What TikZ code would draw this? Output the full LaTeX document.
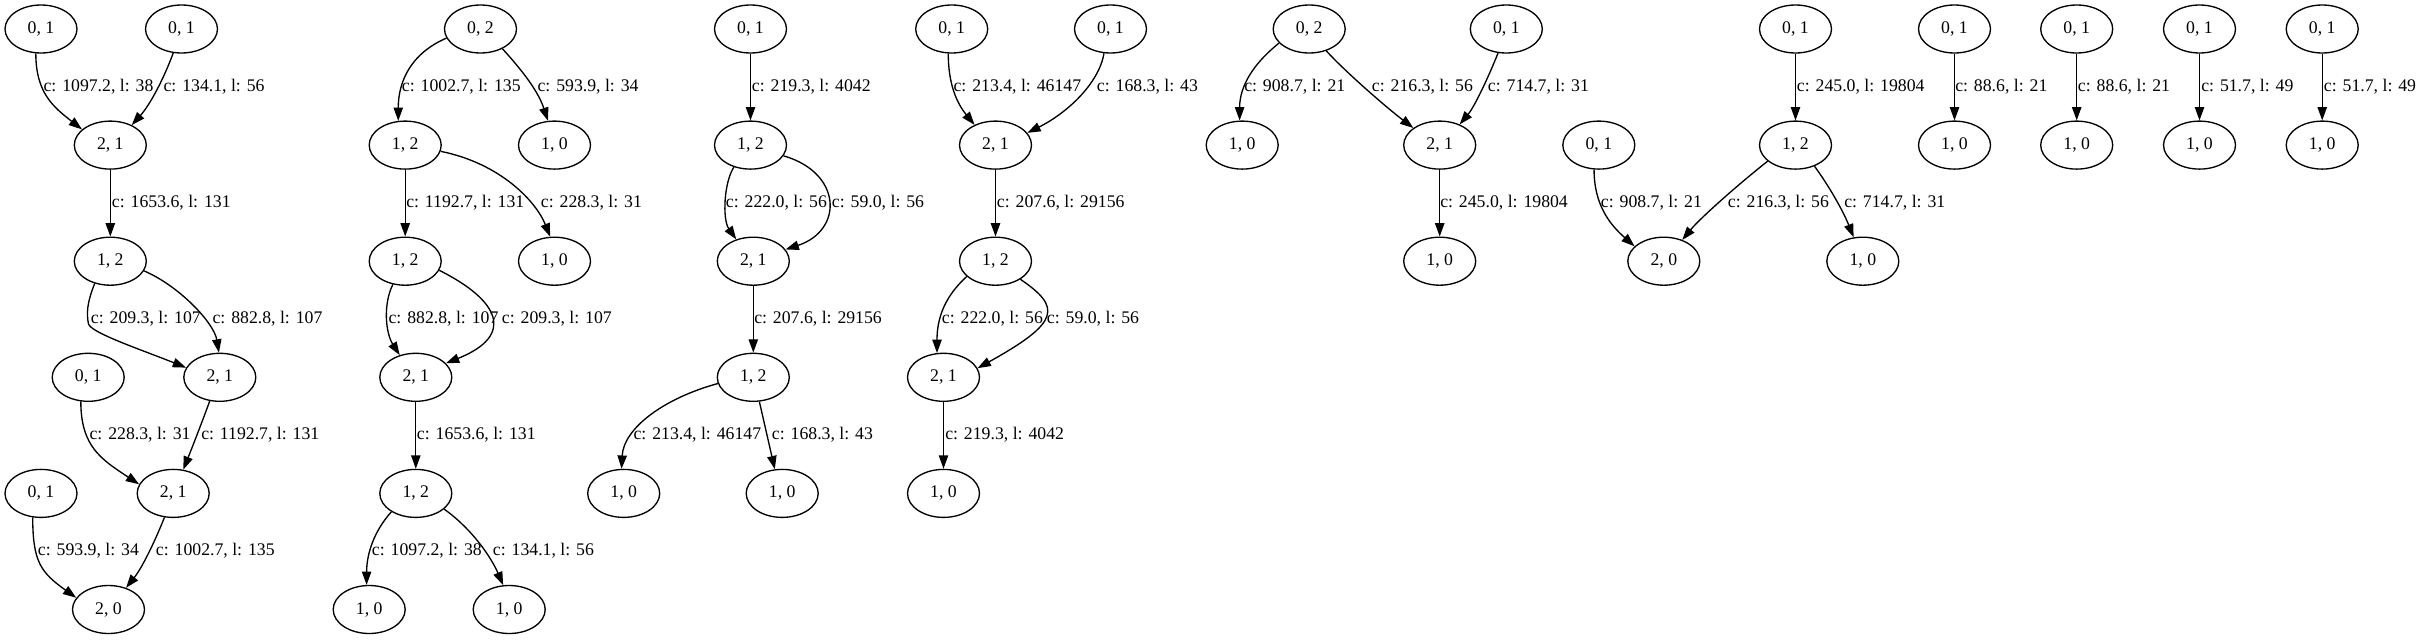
\documentclass[tikz,border=0pt]{standalone}
\usepackage{fontspec}
\setmainfont{Liberation Serif}
\usetikzlibrary{shapes.geometric,arrows.meta}
\begin{document}
\begin{tikzpicture}[x=0.75pt, y=-0.75pt,
  st/.style={draw, ellipse, minimum width=54pt, minimum height=36pt, inner sep=0pt, line width=1pt, font=\fontsize{13.3}{15}\selectfont},
  lab/.style={anchor=west, inner sep=0pt, font=\fontsize{13.3}{15}\selectfont},
  ed/.style={line width=1pt, -{Triangle[length=10pt,width=7pt]}}]
\path[use as bounding box] (0,0) rectangle (2420,639);
% ---------- graph 1
\node[st] (a1) at (41,29) {0, 1};
\node[st] (a2) at (181.5,29) {0, 1};
\node[st] (a3) at (110.3,145.1) {2, 1};
\node[st] (a4) at (110.3,261.2) {1, 2};
\node[st] (a5) at (219.8,377.3) {2, 1};
\node[st] (a6) at (88.2,377.3) {0, 1};
\node[st] (a7) at (173.2,493.4) {2, 1};
\node[st] (a8) at (41,493.4) {0, 1};
\node[st] (a9) at (108.5,609.5) {2, 0};
\coordinate (k1) at (88.5,324);
\draw[ed] (a1.258) .. controls +(0,40) and +(-28,-22) .. (a3.151);
\draw[ed] (a2.251) .. controls +(-10,27) and +(18,-20) .. (a3.43);
\draw[ed] (a3) -- (a4);
\draw[ed] (a4.235) .. controls +(-8,20) and +(-2,-10) .. (k1) .. controls +(3,9) and +(-45,-18) .. (a5.164);
\draw[ed] (a4.-16) .. controls +(35,15) and +(-5,-30) .. (a5.92);
\draw[ed] (a6.-107) .. controls +(0,45) and +(-38,-25) .. (a7.165);
\draw[ed] (a5.-113) .. controls +(-8,22) and +(8,-20) .. (a7.67);
\draw[ed] (a8.-109) .. controls +(0,45) and +(-35,-25) .. (a9.160);
\draw[ed] (a7.-110) .. controls +(-10,25) and +(16,-20) .. (a9.51);
\node[lab] (la1) at (43.3,87) {c: 1097.2, l: 38};
\node[lab] (la2) at (163.3,87) {c: 134.1, l: 56};
\node[lab] (la3) at (111.7,203) {c: 1653.6, l: 131};
\node[lab] (la4) at (90.7,319) {c: 209.3, l: 107};
\node[lab] (la5) at (212.3,319) {c: 882.8, l: 107};
\node[lab] (la6) at (89.3,435) {c: 228.3, l: 31};
\node[lab] (la7) at (201,435) {c: 1192.7, l: 131};
\node[lab] (la8) at (37.7,551) {c: 593.9, l: 34};
\node[lab] (la9) at (155.7,551) {c: 1002.7, l: 135};
% ---------- graph 2
\node[st] (b1) at (480.5,29) {0, 2};
\node[st] (b2) at (405.2,145.1) {1, 2};
\node[st] (b3) at (554.5,145.1) {1, 0};
\node[st] (b4) at (405.2,261.2) {1, 2};
\node[st] (b5) at (554.5,261.2) {1, 0};
\node[st] (b6) at (415.8,377.3) {2, 1};
\node[st] (b7) at (415.8,493.4) {1, 2};
\node[st] (b8) at (369.2,609.5) {1, 0};
\node[st] (b9) at (509.2,609.5) {1, 0};
\draw[ed] (b1.195) .. controls +(-35,15) and +(0,-40) .. (b2.106);
\draw[ed] (b1.-42) .. controls +(20,22) and +(-10,-30) .. (b3.105);
\draw[ed] (b2) -- (b4);
\draw[ed] (b2.-10) .. controls +(60,12) and +(-14,-35) .. (b5.100);
\draw[ed] (b4.-118) .. controls +(-10,20) and +(-14,-22) .. (b6.126);
\draw[ed] (b4.-15) .. controls +(60,30) and +(70,-28) .. (b6.25);
\draw[ed] (b6) -- (b7);
\draw[ed] (b7.-143) .. controls +(-18,20) and +(0,-30) .. (b8.96);
\draw[ed] (b7.-29) .. controls +(28,20) and +(-12,-28) .. (b9.104);
\node[lab] (lb1) at (401.7,87) {c: 1002.7, l: 135};
\node[lab] (lb2) at (537.3,87) {c: 593.9, l: 34};
\node[lab] (lb3) at (406,203) {c: 1192.7, l: 131};
\node[lab] (lb4) at (540.7,203) {c: 228.3, l: 31};
\node[lab] (lb5) at (388.3,319) {c: 882.8, l: 107};
\node[lab] (lb6) at (501.7,319) {c: 209.3, l: 107};
\node[lab] (lb7) at (416.7,435) {c: 1653.6, l: 131};
\node[lab] (lb8) at (371.7,551) {c: 1097.2, l: 38};
\node[lab] (lb9) at (492.7,551) {c: 134.1, l: 56};
% ---------- graph 3
\node[st] (c1) at (750.5,29) {0, 1};
\node[st] (c2) at (750.5,145.1) {1, 2};
\node[st] (c3) at (753.3,261.2) {2, 1};
\node[st] (c4) at (753.3,377.3) {1, 2};
\node[st] (c5) at (623.7,493.4) {1, 0};
\node[st] (c6) at (782.2,493.4) {1, 0};
\draw[ed] (c1) -- (c2);
\draw[ed] (c2.-127) .. controls +(-10,15) and +(-14,-20) .. (c3.128);
\draw[ed] (c2.-18) .. controls +(59,17) and +(58,-19) .. (c3.20);
\draw[ed] (c3) -- (c4);
\draw[ed] (c4.190) .. controls +(-55,15) and +(2,-40) .. (c5.95);
\draw[ed] (c4.-76) -- (c6.107);
\node[lab] (lc1) at (751.7,87) {c: 219.3, l: 4042};
\node[lab] (lc2) at (725.7,203) {c: 222.0, l: 56};
\node[lab] (lc3) at (831.7,203) {c: 59.0, l: 56};
\node[lab] (lc4) at (754,319) {c: 207.6, l: 29156};
\node[lab] (lc5) at (633.3,435) {c: 213.4, l: 46147};
\node[lab] (lc6) at (771.7,435) {c: 168.3, l: 43};
% ---------- graph 4
\node[st] (d1) at (951.7,29) {0, 1};
\node[st] (d2) at (1110.5,29) {0, 1};
\node[st] (d3) at (995.5,145.1) {2, 1};
\node[st] (d4) at (995.5,261.2) {1, 2};
\node[st] (d5) at (943.5,377.3) {2, 1};
\node[st] (d6) at (943.5,493.4) {1, 0};
\draw[ed] (d1.-98) .. controls +(0,30) and +(-18,-22) .. (d3.136);
\draw[ed] (d2.-105) .. controls +(-5,30) and +(40,-20) .. (d3.21);
\draw[ed] (d3) -- (d4);
\draw[ed] (d4.-152) .. controls +(-22,20) and +(0,-35) .. (d5.105);
\draw[ed] (d4.-36) .. controls +(41,28) and +(83,-46) .. (d5.15);
\draw[ed] (d5) -- (d6);
\node[lab] (ld1) at (953.3,87) {c: 213.4, l: 46147};
\node[lab] (ld2) at (1096.7,87) {c: 168.3, l: 43};
\node[lab] (ld3) at (996.7,203) {c: 207.6, l: 29156};
\node[lab] (ld4) at (941.7,319) {c: 222.0, l: 56};
\node[lab] (ld5) at (1046.7,319) {c: 59.0, l: 56};
\node[lab] (ld6) at (945,435) {c: 219.3, l: 4042};
% ---------- graph 5
\node[st] (e1) at (1309.2,29) {0, 2};
\node[st] (e2) at (1506.3,29) {0, 1};
\node[st] (e3) at (1242.2,145.1) {1, 0};
\node[st] (e4) at (1439.7,145.1) {2, 1};
\node[st] (e5) at (1439.7,261.2) {1, 0};
\draw[ed] (e1.-155) .. controls +(-25,20) and +(0,-35) .. (e3.96);
\draw[ed] (e1.-52) .. controls +(20,22) and +(-25,-19) .. (e4.147);
\draw[ed] (e2.-109) .. controls +(-10,25) and +(15,-18) .. (e4.46);
\draw[ed] (e4) -- (e5);
\node[lab] (le1) at (1244,87) {c: 908.7, l: 21};
\node[lab] (le2) at (1371.7,87) {c: 216.3, l: 56};
\node[lab] (le3) at (1487.7,87) {c: 714.7, l: 31};
\node[lab] (le4) at (1440,203) {c: 245.0, l: 19804};
% ---------- graph 6
\node[st] (f1) at (1795.5,29) {0, 1};
\node[st] (f2) at (1795.5,145.1) {1, 2};
\node[st] (f3) at (1598.8,145.1) {0, 1};
\node[st] (f4) at (1663.8,261.2) {2, 0};
\node[st] (f5) at (1862.8,261.2) {1, 0};
\draw[ed] (f1) -- (f2);
\draw[ed] (f3.-101) .. controls +(0,35) and +(-25,-22) .. (f4.153);
\draw[ed] (f2.-150) .. controls +(-28,22) and +(18,-22) .. (f4.49);
\draw[ed] (f2.-48) .. controls +(16,22) and +(-10,-25) .. (f5.111);
\node[lab] (lf1) at (1796.7,87) {c: 245.0, l: 19804};
\node[lab] (lf2) at (1600.7,203) {c: 908.7, l: 21};
\node[lab] (lf3) at (1727.7,203) {c: 216.3, l: 56};
\node[lab] (lf4) at (1844,203) {c: 714.7, l: 31};
% ---------- graphs 7-10
\node[st] (g1) at (1954.5,29) {0, 1};
\node[st] (g2) at (1954.5,145.1) {1, 0};
\draw[ed] (g1) -- (g2);
\node[lab] (lg1) at (1955,87) {c: 88.6, l: 21};
\node[st] (h1) at (2076.7,29) {0, 1};
\node[st] (h2) at (2076.7,145.1) {1, 0};
\draw[ed] (h1) -- (h2);
\node[lab] (lh1) at (2077.7,87) {c: 88.6, l: 21};
\node[st] (i1) at (2199.5,29) {0, 1};
\node[st] (i2) at (2199.5,145.1) {1, 0};
\draw[ed] (i1) -- (i2);
\node[lab] (li1) at (2201,87) {c: 51.7, l: 49};
\node[st] (j1) at (2322.2,29) {0, 1};
\node[st] (j2) at (2322.2,145.1) {1, 0};
\draw[ed] (j1) -- (j2);
\node[lab] (lj1) at (2323.7,87) {c: 51.7, l: 49};
\end{tikzpicture}
\end{document}
